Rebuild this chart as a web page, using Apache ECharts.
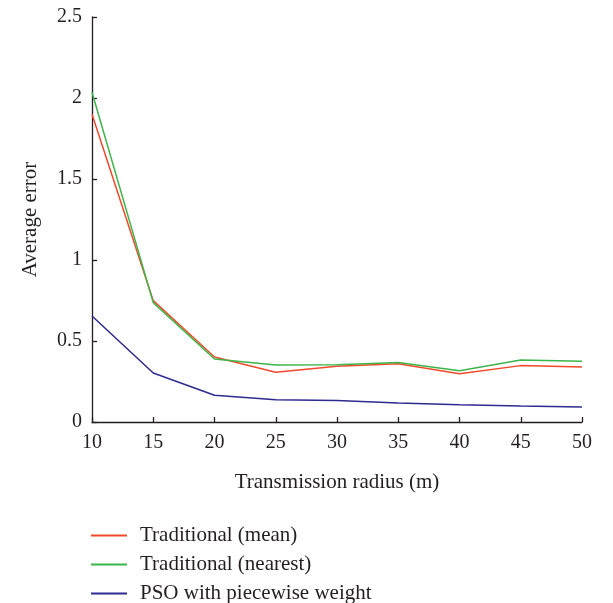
<!DOCTYPE html>
<html>
<head>
<meta charset="utf-8">
<script src="https://cdn.jsdelivr.net/npm/echarts@6/dist/echarts.min.js"></script>
<style>
  html, body { margin: 0; padding: 0; background: #fff; }
  #chart { width: 613px; height: 603px; }
</style>
</head>
<body>
<div id="chart"></div>
<script>
// Transmission radius (m)
const radius = [10, 15, 20, 25, 30, 35, 40, 45, 50];
// Average localization error per method
const traditionalMean = [1.90, 0.749, 0.401, 0.307, 0.344, 0.360, 0.298, 0.348, 0.340];
const traditionalNearest = [2.035, 0.737, 0.389, 0.352, 0.354, 0.368, 0.317, 0.383, 0.375];
const psoPiecewise = [0.654, 0.302, 0.165, 0.138, 0.132, 0.117, 0.107, 0.099, 0.093];

const seriesNames = ['Traditional (mean)', 'Traditional (nearest)', 'PSO with piecewise weight'];
const seriesColors = ['#f2492b', '#3cb54a', '#2d2a90'];
const seriesValues = [traditionalMean, traditionalNearest, psoPiecewise];

const font = 'Liberation Serif';
const ink = '#231f20';

const chart = echarts.init(document.getElementById('chart'), null, { renderer: 'canvas' });

chart.setOption({
  animation: false,
  backgroundColor: '#ffffff',
  grid: { left: 92, right: 31, top: 17, bottom: 181, containLabel: false },
  xAxis: {
    type: 'value',
    min: 10, max: 50, interval: 5,
    name: 'Transmission radius (m)',
    nameLocation: 'middle',
    nameGap: 50,
    nameTextStyle: { fontFamily: font, fontSize: 21, color: ink },
    axisLine: { lineStyle: { color: ink, width: 1.3 } },
    axisTick: { inside: true, length: 5, lineStyle: { color: ink, width: 1.3 } },
    axisLabel: { margin: 11, fontFamily: font, fontSize: 20, color: ink },
    splitLine: { show: false }
  },
  yAxis: {
    type: 'value',
    min: 0, max: 2.5, interval: 0.5,
    name: 'Average error',
    nameLocation: 'middle',
    nameGap: 51,
    nameTextStyle: { fontFamily: font, fontSize: 21, color: ink },
    axisLine: { show: true, lineStyle: { color: ink, width: 1.3 } },
    axisTick: { show: true, inside: true, length: 5, lineStyle: { color: ink, width: 1.3 } },
    axisLabel: { margin: 10, fontFamily: font, fontSize: 20, color: ink },
    splitLine: { show: false }
  },
  legend: {
    orient: 'vertical',
    left: 91,
    top: 525,
    height: 110,
    padding: 0,
    icon: 'rect',
    itemWidth: 36,
    itemHeight: 2,
    itemGap: 8,
    textStyle: { fontFamily: font, fontSize: 21, color: ink, lineHeight: 21, padding: [0, 0, 0, 8] },
    data: seriesNames
  },
  series: seriesNames.map((name, i) => ({
    name: name,
    type: 'line',
    data: radius.map((r, j) => [r, seriesValues[i][j]]),
    showSymbol: false,
    symbol: 'none',
    lineStyle: { color: seriesColors[i], width: 1.5 },
    itemStyle: { color: seriesColors[i] }
  }))
});
</script>
</body>
</html>
